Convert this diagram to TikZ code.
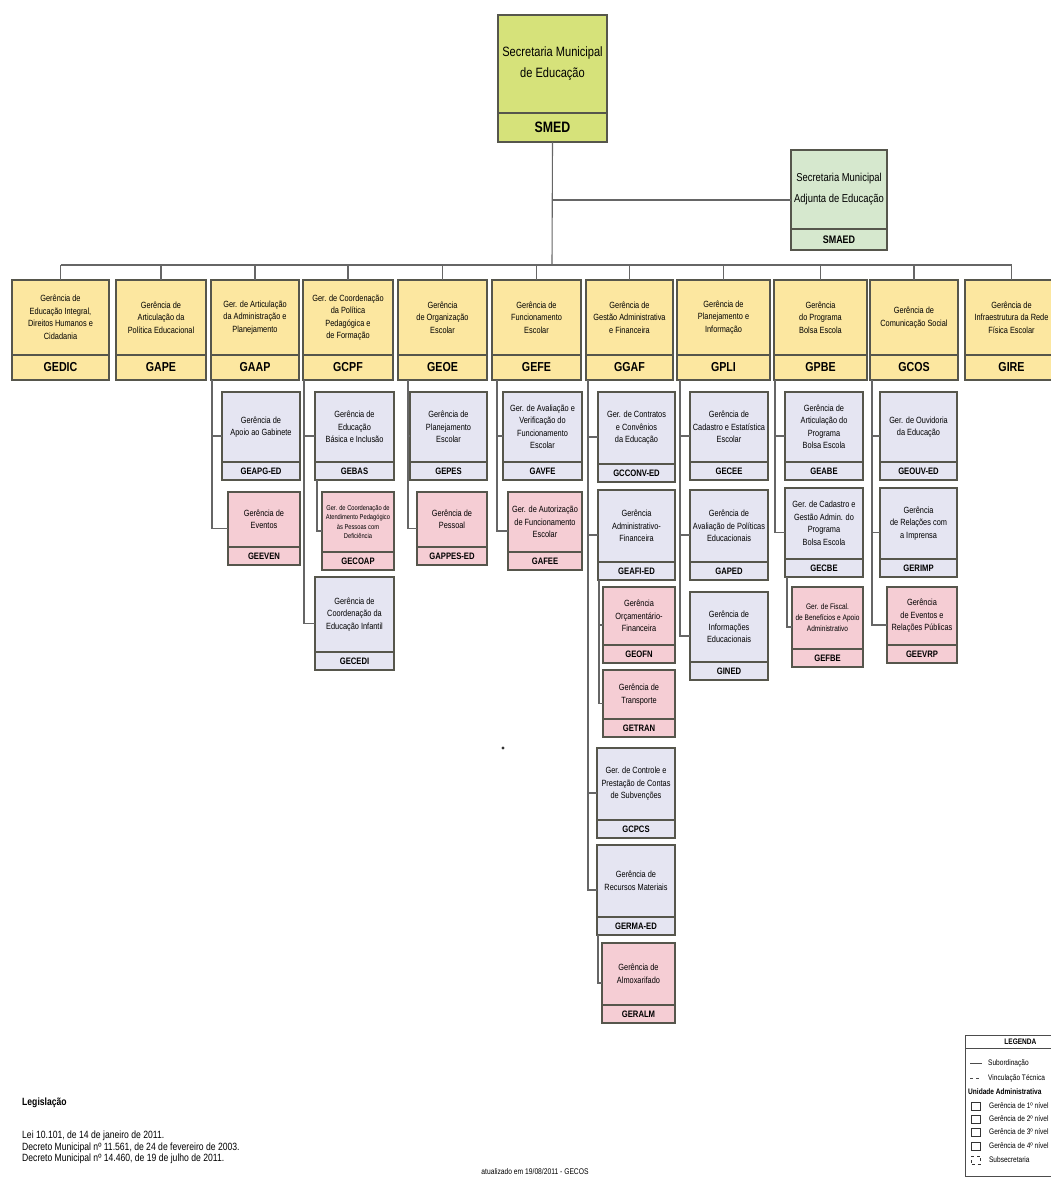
\documentclass[tikz,border=0pt]{standalone}
\usepackage{fontspec}
\setmainfont{Liberation Sans}
\newfontfamily\estreita[FakeStretch=0.82]{Liberation Sans}
\usetikzlibrary{calc,positioning}

\definecolor{verdesmed}{RGB}{214,226,122}
\definecolor{verdesmaed}{RGB}{214,232,206}
\definecolor{amarelo}{RGB}{252,231,160}
\definecolor{lilas}{RGB}{229,229,242}
\definecolor{rosa}{RGB}{245,205,212}
\definecolor{borda}{RGB}{86,86,76}

\tikzset{
  unid/.style={draw=borda, line width=1.6pt, rectangle, inner sep=0pt, outer sep=0pt},
  sigla/.style={draw=borda, line width=1.2pt, rectangle, inner sep=0pt, outer sep=0pt},
  texto/.style={align=center, inner sep=0pt, font=\estreita\fontsize{9}{12.5}\selectfont},
  lig/.style={draw=black!60, line width=1.1pt},
  leg/.style={anchor=west, inner sep=0pt, font=\estreita\fontsize{8}{9}\selectfont},
}

%% #1 nome, #2 cor, #3-#6 caixa (x1,y1,x2,y2), #7 altura da sigla, #8 texto, #9 sigla
\newcommand{\unidade}[9]{%
  \pgfmathsetmacro{\ux}{(#3+#5)/2}%
  \pgfmathsetmacro{\uy}{(#4+#6)/2}%
  \pgfmathsetmacro{\uw}{#5-#3}%
  \pgfmathsetmacro{\uh}{#6-#4}%
  \pgfmathsetmacro{\us}{#7*0.52}%
  \node[unid, fill=#2, minimum width=\uw pt, minimum height=\uh pt] (#1) at (\ux,\uy) {};
  \node[sigla, fill=#2, minimum width=\uw pt, minimum height=#7 pt, anchor=south,
        font=\estreita\bfseries\fontsize{\us}{\us}\selectfont] (#1-sig) at (#1.south) {#9};
  \node[texto] (#1-txt) at ($(#1.north)!0.5!(#1-sig.north)$) {#8};
}

\begin{document}
\begin{tikzpicture}[x=1pt, y=-1pt]
  \useasboundingbox (0,0) rectangle (1051,1180);
  \clip (0,0) rectangle (1051,1180);

  %% secretarias
  \begin{scope}[texto/.append style={font=\estreita\fontsize{13.5}{21}\selectfont}]
    \unidade{smed}{verdesmed}{498}{15}{607}{142}{29}{Secretaria Municipal\\de Educação}{SMED}
  \end{scope}
  \begin{scope}[texto/.append style={font=\estreita\fontsize{11.5}{21}\selectfont}]
    \unidade{smaed}{verdesmaed}{791}{150}{887}{250}{21}{Secretaria Municipal\\Adjunta de Educação}{SMAED}
  \end{scope}

  %% gerencias de primeiro nivel
  \unidade{gedic}{amarelo}{12}{280}{109}{380}{25}{Gerência de\\Educação Integral,\\Direitos Humanos e\\Cidadania}{GEDIC}
  \unidade{gape}{amarelo}{116}{280}{206}{380}{25}{Gerência de\\Articulação da\\Política Educacional}{GAPE}
  \unidade{gaap}{amarelo}{211}{280}{299}{380}{25}{Ger. de Articulação\\da Administração e\\Planejamento}{GAAP}
  \unidade{gcpf}{amarelo}{303}{280}{393}{380}{25}{Ger. de Coordenação\\da Política\\Pedagógica e\\de Formação}{GCPF}
  \unidade{geoe}{amarelo}{398}{280}{487}{380}{25}{Gerência\\de Organização\\Escolar}{GEOE}
  \unidade{gefe}{amarelo}{492}{280}{581}{380}{25}{Gerência de\\Funcionamento\\Escolar}{GEFE}
  \unidade{ggaf}{amarelo}{586}{280}{673}{380}{25}{Gerência de\\Gestão Administrativa\\e Financeira}{GGAF}
  \unidade{gpli}{amarelo}{677}{280}{770}{380}{25}{Gerência de\\Planejamento e\\Informação}{GPLI}
  \unidade{gpbe}{amarelo}{774}{280}{867}{380}{25}{Gerência\\do Programa\\Bolsa Escola}{GPBE}
  \unidade{gcos}{amarelo}{870}{280}{958}{380}{25}{Gerência de\\Comunicação Social}{GCOS}
  \unidade{gire}{amarelo}{965}{280}{1058}{380}{25}{Gerência de\\Infraestrutura da Rede\\Física Escolar}{GIRE}

  %% GAAP
  \unidade{geapg}{lilas}{222}{392}{300}{480}{18}{Gerência de\\Apoio ao Gabinete}{GEAPG-ED}
  \unidade{geeven}{rosa}{228}{492}{300}{565}{18}{Gerência de\\Eventos}{GEEVEN}
  %% GCPF
  \unidade{gebas}{lilas}{315}{392}{394}{480}{18}{Gerência de\\Educação\\Básica e Inclusão}{GEBAS}
  \begin{scope}[texto/.append style={font=\estreita\fontsize{7}{9.5}\selectfont}]
    \unidade{gecap}{rosa}{322}{492}{394}{570}{18}{Ger. de Coordenação de\\Atendimento Pedagógico\\às Pessoas com\\Deficiência}{GECOAP}
  \end{scope}
  \unidade{gecedi}{lilas}{315}{577}{394}{670}{18}{Gerência de\\Coordenação da\\Educação Infantil}{GECEDI}
  %% GEOE
  \unidade{gepes}{lilas}{410}{392}{487}{480}{18}{Gerência de\\Planejamento\\Escolar}{GEPES}
  \unidade{gappes}{rosa}{417}{492}{487}{565}{18}{Gerência de\\Pessoal}{GAPPES-ED}
  %% GEFE
  \unidade{gavfe}{lilas}{503}{392}{582}{480}{18}{Ger. de Avaliação e\\Verificação do\\Funcionamento\\Escolar}{GAVFE}
  \unidade{gafee}{rosa}{508}{492}{582}{570}{18}{Ger. de Autorização\\de Funcionamento\\Escolar}{GAFEE}
  %% GGAF
  \unidade{gcconv}{lilas}{598}{392}{675}{482}{18}{Ger. de Contratos\\e Convênios\\da Educação}{GCCONV-ED}
  \unidade{geafi}{lilas}{598}{490}{675}{580}{18}{Gerência\\Administrativo-\\Financeira}{GEAFI-ED}
  \unidade{geofn}{rosa}{603}{587}{675}{663}{18}{Gerência\\Orçamentário-\\Financeira}{GEOFN}
  \unidade{getran}{rosa}{603}{670}{675}{737}{18}{Gerência de\\Transporte}{GETRAN}
  \unidade{gcpcs}{lilas}{597}{748}{675}{838}{18}{Ger. de Controle e\\Prestação de Contas\\de Subvenções}{GCPCS}
  \unidade{germa}{lilas}{597}{845}{675}{935}{18}{Gerência de\\Recursos Materiais}{GERMA-ED}
  \unidade{geralm}{rosa}{602}{943}{675}{1023}{18}{Gerência de\\Almoxarifado}{GERALM}
  %% GPLI
  \unidade{gecee}{lilas}{690}{392}{768}{480}{18}{Gerência de\\Cadastro e Estatística\\Escolar}{GECEE}
  \unidade{gaped}{lilas}{690}{490}{768}{580}{18}{Gerência de\\Avaliação de Políticas\\Educacionais}{GAPED}
  \unidade{gined}{lilas}{690}{592}{768}{680}{18}{Gerência de\\Informações\\Educacionais}{GINED}
  %% GPBE
  \unidade{geabe}{lilas}{785}{392}{863}{480}{18}{Gerência de\\Articulação do\\Programa\\Bolsa Escola}{GEABE}
  \unidade{gecbe}{lilas}{785}{488}{863}{577}{18}{Ger. de Cadastro e\\Gestão Admin. do\\Programa\\Bolsa Escola}{GECBE}
  \begin{scope}[texto/.append style={font=\estreita\fontsize{8}{11}\selectfont}]
    \unidade{gefbe}{rosa}{792}{587}{863}{667}{18}{Ger. de Fiscal.\\de Benefícios e Apoio\\Administrativo}{GEFBE}
  \end{scope}
  %% GCOS
  \unidade{geouv}{lilas}{880}{392}{957}{480}{18}{Ger. de Ouvidoria\\da Educação}{GEOUV-ED}
  \unidade{gerimp}{lilas}{880}{488}{957}{577}{18}{Gerência\\de Relações com\\a Imprensa}{GERIMP}
  \unidade{geerp}{rosa}{887}{587}{957}{663}{18}{Gerência\\de Eventos e\\Relações Públicas}{GEEVRP}

  %% ligacoes
  \coordinate (barra) at (552,265);
  \draw[lig] (smed.south) |- (smaed.west);
  \draw[lig] (smed.south) -- (barra);
  \draw[lig] (gedic.north |- barra) -- (gire.north |- barra);
  \foreach \g in {gedic,gape,gaap,gcpf,geoe,gefe,ggaf,gpli,gpbe,gcos,gire}
    \draw[lig] (\g.north |- barra) -- (\g.north);

  \foreach \f in {geapg,geeven} \draw[lig] ([xshift=1pt]gaap.south west) |- (\f.west);
  \foreach \f in {gebas,gecedi} \draw[lig] ([xshift=1pt]gcpf.south west) |- (\f.west);
  \draw[lig] ([xshift=2pt]gebas.south west) |- (gecap.west);
  \foreach \f in {gepes,gappes} \draw[lig] ([xshift=10pt]geoe.south west) |- (\f.west);
  \foreach \f in {gavfe,gafee} \draw[lig] ([xshift=5pt]gefe.south west) |- (\f.west);
  \foreach \f in {gcconv,geafi,gcpcs,germa} \draw[lig] ([xshift=2pt]ggaf.south west) |- (\f.west);
  \foreach \f in {geofn,getran} \draw[lig] ([xshift=1pt]geafi.south west) |- (\f.west);
  \draw[lig] ([xshift=1pt]germa.south west) |- (geralm.west);
  \foreach \f in {gecee,gaped,gined} \draw[lig] ([xshift=3pt]gpli.south west) |- (\f.west);
  \foreach \f in {geabe,gecbe} \draw[lig] ([xshift=1pt]gpbe.south west) |- (\f.west);
  \draw[lig] ([xshift=2pt]gecbe.south west) |- (gefbe.west);
  \foreach \f in {geouv,gerimp,geerp} \draw[lig] ([xshift=2pt]gcos.south west) |- (\f.west);

  \fill[black!80] (503,748) circle (1.6);

  %% legislacao
  \node[anchor=west, inner sep=0pt, font=\estreita\bfseries\fontsize{10.5}{12}\selectfont] (legis) at (22,1103) {Legislação};
  \node[anchor=north west, align=left, inner sep=0pt, font=\estreita\fontsize{10.5}{11.5}\selectfont] (leis) at (22,1131)
    {Lei 10.101, de 14 de janeiro de 2011.\\Decreto Municipal nº 11.561, de 24 de fevereiro de 2003.\\Decreto Municipal nº 14.460, de 19 de julho de 2011.};
  \node[inner sep=0pt, font=\estreita\fontsize{8.2}{9}\selectfont] (atual) at (535,1172) {atualizado em 19/08/2011 - GECOS};

  %% legenda
  \node[draw=black!70, line width=0.8pt, anchor=north west, minimum width=110pt, minimum height=141pt, inner sep=0pt] (legenda) at (965,1035) {};
  \node[draw=black!70, line width=0.8pt, anchor=north west, minimum width=110pt, minimum height=13pt, inner sep=0pt,
        font=\estreita\bfseries\fontsize{8}{9}\selectfont] (leg-tit) at (legenda.north west) {LEGENDA};
  \coordinate (l1) at (970,1063);
  \draw[black!70, line width=0.8pt] (l1) -- ++(12,0) coordinate (l1b);
  \node[leg] (leg-sub) at ([xshift=6pt]l1b) {Subordinação};
  \coordinate (l2) at (970,1078);
  \draw[black!70, line width=0.8pt, dashed] (l2) -- ++(12,0) coordinate (l2b);
  \node[leg] (leg-vin) at ([xshift=6pt]l2b) {Vinculação Técnica};
  \node[leg, font=\estreita\bfseries\fontsize{8}{9}\selectfont] (leg-uni) at (968,1092) {Unidade Administrativa};
  \foreach \n/\yy/\t in {1/1106/Gerência de 1º nível, 2/1119/Gerência de 2º nível, 3/1132/Gerência de 3º nível, 4/1146/Gerência de 4º nível} {
    \node[draw=black!80, line width=1pt, minimum width=9pt, minimum height=8pt, inner sep=0pt] (sq\n) at (976,\yy) {};
    \node[leg] (tx\n) at ([xshift=8pt]sq\n.east) {\t};
  }
  \node[draw=black!80, dashed, line width=0.8pt, minimum width=9pt, minimum height=8pt, inner sep=0pt] (sq5) at (976,1160) {};
  \node[leg] (tx5) at ([xshift=8pt]sq5.east) {Subsecretaria};
\end{tikzpicture}
\end{document}
